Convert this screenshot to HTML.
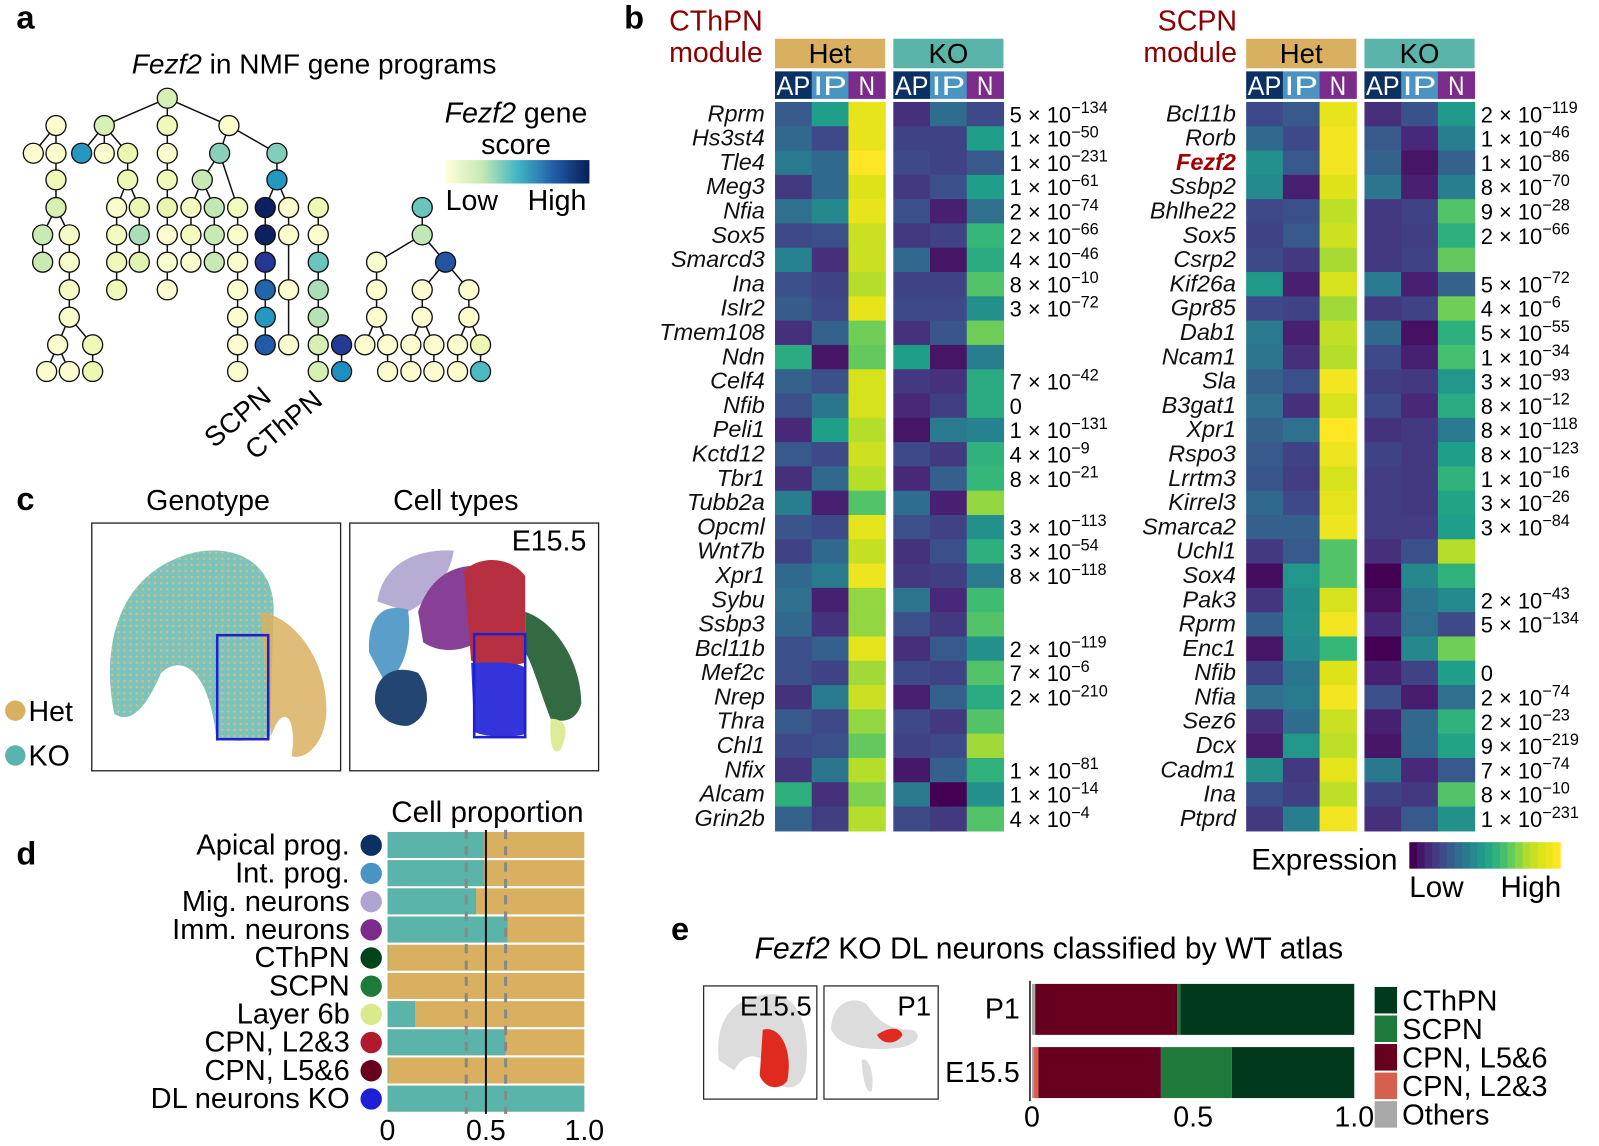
<!DOCTYPE html>
<html><head><meta charset="utf-8"><style>
html,body{margin:0;padding:0;background:#fff;}
svg{display:block;font-family:"Liberation Sans",Arial,sans-serif;}
.it{font-style:italic;}
</style></head><body>
<svg id="fig" width="1599" height="1146" viewBox="0 0 1568 1124" preserveAspectRatio="none" xmlns="http://www.w3.org/2000/svg">
<defs>
<linearGradient id="ylgnbu" x1="0" x2="1" y1="0" y2="0">
<stop offset="0" stop-color="#ffffd9"/><stop offset="0.25" stop-color="#c7e9b4"/><stop offset="0.5" stop-color="#41b6c4"/><stop offset="0.75" stop-color="#225ea8"/><stop offset="1" stop-color="#081d58"/>
</linearGradient>
<pattern id="speck" width="6" height="6" patternUnits="userSpaceOnUse">
<rect width="6" height="6" fill="#5ab4aa"/><circle cx="2" cy="2" r="1.2" fill="#d9b060" opacity="0.8"/>
</pattern>
</defs>
<g font-weight="bold" font-size="32">
<text x="16" y="28">a</text>
<text x="612" y="28">b</text>
<text x="16" y="500">c</text>
<text x="16" y="848">d</text>
<text x="658" y="922">e</text>
</g>
<text x="308" y="72" font-size="27.5" text-anchor="middle"><tspan class="it">Fezf2</tspan> in NMF gene programs</text>
<g>
<text x="506" y="120" font-size="28" text-anchor="middle"><tspan class="it">Fezf2</tspan> gene</text>
<text x="506" y="151" font-size="28" text-anchor="middle">score</text>
<rect x="437" y="157" width="141" height="23" fill="url(#ylgnbu)"/>
<text x="437" y="206" font-size="28">Low</text>
<text x="575" y="206" font-size="28" text-anchor="end">High</text>
</g>
<g id="tree" transform="translate(14.7,78.4) scale(0.3268)"></g>
<text transform="translate(210,440) rotate(-40)" font-size="27">SCPN</text>
<text transform="translate(250,452) rotate(-40)" font-size="27">CThPN</text>

<g id="heat"></g>
<g>
<text x="1227" y="853" font-size="29">Expression</text>
<g id="exprbar"></g>
<text x="1382" y="880" font-size="29">Low</text>
<text x="1531" y="880" font-size="29" text-anchor="end">High</text>
</g>

<g>
<text x="204" y="500" font-size="28" text-anchor="middle">Genotype</text>
<text x="447" y="500" font-size="28" text-anchor="middle">Cell types</text>
<rect x="90" y="513" width="244" height="243" fill="#fff" stroke="#222" stroke-width="1.3"/>
<rect x="343" y="513" width="244" height="243" fill="#fff" stroke="#222" stroke-width="1.3"/>
<g>
<path d="M112,700 C98,630 118,560 190,542 C240,532 272,560 268,605 L265,722 C245,728 222,728 212,722 C205,660 180,640 158,660 C145,690 130,712 112,700Z" fill="url(#speck)" opacity="0.8"/>
<path d="M255,600 C290,605 322,650 320,700 C318,730 300,745 286,742 C292,700 276,690 266,722Z" fill="#d9b060" opacity="0.85"/>
<rect x="213" y="623" width="50" height="102" fill="none" stroke="#2020d0" stroke-width="2.5"/>
</g>
<g opacity="0.9">
<path d="M370,590 C375,555 405,538 445,540 C440,570 420,590 400,600Z" fill="#b0a4d0"/>
<path d="M362,640 C360,610 372,590 400,598 C405,630 395,660 378,670Z" fill="#4a94c4"/>
<path d="M368,690 C365,665 385,650 410,660 C425,680 420,705 400,712 C385,712 372,705 368,690Z" fill="#0b3163"/>
<path d="M410,600 C420,570 440,555 465,555 L468,630 C450,640 430,640 415,630Z" fill="#7b2c8a"/>
<path d="M455,560 C470,545 500,545 515,565 L515,650 C495,655 475,655 462,648Z" fill="#b01a2e"/>
<path d="M462,650 C480,650 505,648 515,655 L515,720 C495,725 475,722 465,718Z" fill="#1f1fd8"/>
<path d="M515,600 C545,610 570,650 570,690 C566,705 555,710 540,705 C530,680 522,650 515,640Z" fill="#1d5a2e"/>
<path d="M540,705 C552,705 560,712 550,735 C545,740 538,738 540,705Z" fill="#d9ea8c"/>
</g>
<rect x="465" y="622" width="50" height="101" fill="none" stroke="#2020d0" stroke-width="2.5"/>
<text x="575" y="540" font-size="28" text-anchor="end">E15.5</text>
<g>
<circle cx="15" cy="697" r="10" fill="#d9b060"/>
<text x="28" y="707" font-size="28">Het</text>
<circle cx="15" cy="741" r="10" fill="#5ab4aa"/>
<text x="28" y="751" font-size="28">KO</text>
</g>
</g>

<g id="pd">
<text x="478" y="806" font-size="29" text-anchor="middle">Cell proportion</text>
</g>

<g id="pe">
<text x="740" y="940" font-size="29.5"><tspan class="it">Fezf2</tspan> KO DL neurons classified by WT atlas</text>
<rect x="690" y="967" width="111" height="111" fill="#fff" stroke="#222" stroke-width="1.2"/>
<path d="M705,1040 C700,1000 720,975 760,975 C785,980 795,1010 790,1050 C785,1070 770,1070 760,1060 C750,1030 730,1030 720,1050Z" fill="#dcdcdc"/>
<path d="M748,1010 C765,1005 778,1030 772,1060 C765,1070 750,1068 745,1055Z" fill="#e02a20"/>
<text x="796" y="996" font-size="27" text-anchor="end">E15.5</text>
<rect x="808" y="967" width="112" height="111" fill="#fff" stroke="#222" stroke-width="1.2"/>
<path d="M815,1010 C815,985 835,975 850,985 C860,1000 870,1010 895,1010 C905,1015 900,1025 880,1028 C855,1030 825,1030 815,1010Z" fill="#dcdcdc"/>
<path d="M845,1040 C850,1035 858,1050 855,1070 C850,1074 846,1060 845,1040Z" fill="#dcdcdc"/>
<path d="M860,1015 C870,1008 882,1006 885,1015 C880,1024 866,1026 860,1015Z" fill="#e02a20"/>
<text x="913" y="996" font-size="27" text-anchor="end">P1</text>
</g>
<script>
const nodeLayout=[[457,55],[123,137],[268,137],[457,137],[642,137],
[55,220],[123,220],[200,220],[268,220],[338,220],[457,220],[614,220],[786,220],
[123,300],[338,300],[457,300],[562,300],[786,300],
[123,383],[305,383],[373,383],[457,383],[528,383],[598,383],[668,383],[751,383],[821,383],[910,383],[1222,383],
[83,465],[163,465],[305,465],[373,465],[457,465],[528,465],[598,465],[668,465],[751,465],[821,465],[910,465],[1222,465],
[83,547],[163,547],[305,547],[373,547],[457,547],[528,547],[598,547],[668,547],[751,547],[910,547],[1085,547],[1292,547],
[163,630],[305,630],[457,630],[668,630],[751,630],[821,630],[910,630],[1085,630],[1222,630],[1362,630],
[163,712],[668,712],[751,712],[910,712],[1085,712],[1222,712],[1362,712],
[128,795],[233,795],[668,795],[751,795],[821,795],[910,795],[980,795],[1050,795],[1118,795],[1188,795],[1257,795],[1328,795],[1397,795],
[95,875],[163,875],[233,875],[668,875],[910,875],[980,875],[1118,875],[1188,875],[1257,875],[1328,875],[1397,875]];
const nodeScores=[0.2,0.03,0.2,0.1,0.03,
0.03,0.03,0.6,0.03,0.13,0.03,0.36,0.37,
0.1,0.12,0.1,0.25,0.6,
0.2,0.04,0.13,0.14,0.08,0.26,0.08,0.98,0.03,0.11,0.42,
0.24,0.07,0.08,0.3,0.03,0.08,0.25,0.04,0.98,0.03,0.03,0.26,
0.24,0.05,0.1,0.17,0.03,0.03,0.25,0.04,0.87,0.42,0.03,0.78,
0.07,0.1,0.03,0.03,0.73,0.03,0.3,0.03,0.03,0.03,
0.04,0.03,0.6,0.28,0.03,0.03,0.03,
0.03,0.1,0.03,0.76,0.03,0.2,0.86,0.03,0.03,0.03,0.03,0.03,0.12,
0.03,0.03,0.12,0.03,0.2,0.63,0.03,0.03,0.03,0.03,0.48];
const edgeList=[[457,55,268,137],[457,55,457,137],[457,55,642,137],[123,137,55,220],[123,137,123,220],
[268,137,200,220],[268,137,268,220],[268,137,338,220],[457,137,457,220],[457,220,457,300],[457,300,457,383],[457,383,457,465],[457,465,457,547],[457,547,457,630],
[642,137,614,220],[642,137,786,220],[123,220,123,300],[123,300,123,383],[123,383,83,465],[123,383,163,465],[83,465,83,547],
[163,465,163,547],[163,547,163,630],[163,630,163,712],[163,712,128,795],[163,712,233,795],[128,795,95,875],[128,795,163,875],[233,795,233,875],
[338,220,338,300],[338,300,305,383],[338,300,373,383],[305,383,305,465],[305,465,305,547],[305,547,305,630],[373,383,373,465],[373,465,373,547],
[614,220,562,300],[614,220,668,383],[562,300,528,383],[562,300,598,383],[528,383,528,465],[528,465,528,547],[598,383,598,465],[598,465,598,547],
[668,383,668,465],[668,465,668,547],[668,547,668,630],[668,630,668,712],[668,712,668,795],[668,795,668,875],
[786,220,786,300],[786,300,751,383],[786,300,821,383],[751,383,751,465],[751,465,751,547],[751,547,751,630],[751,630,751,712],[751,712,751,795],
[821,383,821,465],[821,465,821,630],[821,630,821,795],
[910,383,910,465],[910,465,910,547],[910,547,910,630],[910,630,910,712],[910,712,910,795],[910,795,910,875],[980,795,980,875],
[1222,383,1222,465],[1222,465,1085,547],[1222,465,1292,547],[1085,547,1085,630],[1085,630,1085,712],[1085,712,1050,795],[1085,712,1118,795],[1118,795,1118,875],
[1292,547,1222,630],[1292,547,1362,630],[1222,630,1222,712],[1222,712,1188,795],[1222,712,1257,795],[1188,795,1188,875],[1257,795,1257,875],
[1362,630,1362,712],[1362,712,1328,795],[1362,712,1397,795],[1328,795,1328,875],[1397,795,1397,875]];
const NS="http://www.w3.org/2000/svg";
function mk(tag,attrs,parent){const e=document.createElementNS(NS,tag);for(const k in attrs)e.setAttribute(k,attrs[k]);parent.appendChild(e);return e;}
function lerpStops(stops,t){t=Math.max(0,Math.min(1,t));const n=stops.length-1;const i=Math.min(n-1,Math.floor(t*n));const f=t*n-i;
 const a=stops[i],b=stops[i+1];const h=s=>[parseInt(s.slice(1,3),16),parseInt(s.slice(3,5),16),parseInt(s.slice(5,7),16)];
 const A=h(a),B=h(b);return "rgb("+A.map((v,k)=>Math.round(v+(B[k]-v)*f)).join(",")+")";}
const YLGNBU=["#ffffd9","#edf8b1","#c7e9b4","#7fcdbb","#41b6c4","#1d91c0","#225ea8","#253494","#081d58"];
const VIRIDIS=["#440154","#482878","#3e4989","#31688e","#26828e","#1f9e89","#35b779","#6ece58","#b5de2b","#dde318","#fde725"];
const tree=document.getElementById('tree');
edgeList.forEach(e=>{
 const ln=mk('line',{x1:e[0],y1:e[1],x2:e[2],y2:e[3],stroke:'#111','stroke-width':4.5},tree);
 
 
});
nodeLayout.forEach((n,i)=>{
 const c=mk('circle',{cx:n[0],cy:n[1],r:30,fill:lerpStops(YLGNBU,nodeScores[i]),stroke:'#111','stroke-width':4},tree);
 
 
});

const cthpnGenes=["Rprm","Hs3st4","Tle4","Meg3","Nfia","Sox5","Smarcd3","Ina","Islr2","Tmem108","Ndn","Celf4","Nfib","Peli1","Kctd12","Tbr1","Tubb2a","Opcml","Wnt7b","Xpr1","Sybu","Ssbp3","Bcl11b","Mef2c","Nrep","Thra","Chl1","Nfix","Alcam","Grin2b"];
const cthpnHet=[[.25,.5,.93],[.3,.2,.93],[.37,.3,1],[.15,.3,.9],[.33,.42,.93],[.2,.22,.85],[.4,.12,.85],[.22,.18,.8],[.26,.2,.93],[.12,.28,.7],[.55,.05,.68],[.28,.22,.88],[.22,.35,.88],[.1,.5,.8],[.25,.2,.86],[.12,.3,.8],[.38,.08,.65],[.24,.2,.92],[.18,.3,.84],[.3,.37,.95],[.33,.08,.75],[.3,.13,.75],[.22,.27,.92],[.22,.18,.77],[.13,.37,.85],[.25,.2,.75],[.2,.22,.68],[.14,.35,.8],[.57,.12,.72],[.28,.17,.8]];
const cthpnKO=[[.12,.32,.2],[.18,.18,.5],[.2,.18,.25],[.15,.22,.5],[.22,.08,.33],[.15,.18,.6],[.3,.05,.55],[.18,.18,.65],[.2,.2,.45],[.13,.24,.7],[.5,.05,.38],[.15,.13,.55],[.1,.17,.55],[.05,.37,.4],[.2,.15,.58],[.1,.27,.6],[.32,.08,.75],[.22,.18,.45],[.13,.22,.57],[.15,.17,.37],[.35,.1,.62],[.22,.15,.65],[.12,.25,.45],[.2,.18,.65],[.08,.27,.55],[.2,.15,.65],[.18,.2,.77],[.06,.27,.58],[.37,0,.45],[.2,.15,.65]];
const cthpnPm=["5","1","1","1","2","2","4","8","3","","","7","0","1","4","8","","3","3","8","","","2","7","2","","","1","1","4"];
const cthpnPe=["134","50","231","61","74","66","46","10","72","","","42","","131","9","21","","113","54","118","","","119","6","210","","","81","14","4"];
const scpnGenes=["Bcl11b","Rorb","Fezf2","Ssbp2","Bhlhe22","Sox5","Csrp2","Kif26a","Gpr85","Dab1","Ncam1","Sla","B3gat1","Xpr1","Rspo3","Lrrtm3","Kirrel3","Smarca2","Uchl1","Sox4","Pak3","Rprm","Enc1","Nfib","Nfia","Sez6","Dcx","Cadm1","Ina","Ptprd"];
const scpnHet=[[.2,.25,.93],[.3,.2,.97],[.45,.25,.96],[.43,.08,.9],[.2,.22,.82],[.18,.25,.86],[.2,.15,.78],[.48,.08,.88],[.2,.18,.77],[.37,.08,.83],[.35,.12,.8],[.28,.22,.97],[.33,.12,.88],[.28,.33,1],[.25,.18,.95],[.24,.16,.88],[.3,.2,.92],[.27,.27,.95],[.15,.25,.65],[.03,.47,.65],[.14,.44,.88],[.27,.45,.96],[.05,.43,.6],[.18,.35,.9],[.33,.37,.97],[.12,.32,.85],[.07,.47,.82],[.45,.15,.92],[.22,.17,.82],[.15,.38,.96]];
const scpnKO=[[.12,.23,.48],[.25,.1,.38],[.28,.05,.28],[.35,.08,.38],[.15,.18,.65],[.15,.17,.57],[.15,.18,.68],[.37,.08,.28],[.15,.18,.7],[.3,.04,.57],[.2,.08,.63],[.17,.15,.47],[.2,.1,.55],[.13,.15,.37],[.18,.15,.5],[.16,.15,.58],[.16,.15,.52],[.16,.16,.5],[.12,.22,.8],[0,.42,.58],[.04,.35,.43],[.1,.33,.2],[0,.42,.7],[.08,.18,.5],[.22,.07,.33],[.08,.3,.58],[.05,.3,.52],[.36,.1,.25],[.18,.15,.65],[.12,.25,.45]];
const scpnPm=["2","1","1","8","9","2","","5","4","5","1","3","8","8","8","1","3","3","","","2","5","","0","2","2","9","7","8","1"];
const scpnPe=["119","46","86","70","28","66","","72","6","55","34","93","12","118","123","16","26","84","","","43","134","","","74","23","219","74","10","231"];
const subCols=["AP","IP","N"];
const subColors=["#0b3163","#4a94c4","#7b2c8a"];

const heat=document.getElementById('heat');
const rowTop=100,rowH=23.83,colW=36;
function drawModule(name,x0,genes,het,ko,pm,pe,labelX,pX,titleX){
 const g=mk('g',{},heat);
 
 
 const t1=mk('text',{x:titleX,y:30,'font-size':28,'text-anchor':'end',fill:'#8b0000'},g);t1.textContent=name==='cthpn'?'CThPN':'SCPN';
 
 
 const t2=mk('text',{x:titleX,y:61,'font-size':28,'text-anchor':'end',fill:'#8b0000'},g);t2.textContent='module';
 
 
 [["Het","#d9b060",x0],["KO","#5ab4aa",x0+116]].forEach((gt)=>{
  const r=mk('rect',{x:gt[2],y:38,width:108,height:29,fill:gt[1]},g);
  
  
  const tx=mk('text',{x:gt[2]+54,y:62,'font-size':27,'text-anchor':'middle'},g);tx.textContent=gt[0];
  
  
  subCols.forEach((s,si)=>{
   const sr=mk('rect',{x:gt[2]+si*colW,y:70,width:colW+0.5,height:27,fill:subColors[si]},g);
   
   
   const st=mk('text',{x:gt[2]+si*colW+colW/2,y:93,'font-size':26,'text-anchor':'middle',fill:'#fff',textLength:s.length>1?33:16,lengthAdjust:'spacingAndGlyphs'},g);st.textContent=s;
   
   
  });
 });
 genes.forEach((gn,i)=>{
  const y=rowTop+i*rowH;
  const lab=mk('text',{x:labelX,y:y+19,'font-size':23,'text-anchor':'end','font-style':'italic',fill:gn==='Fezf2'?'#a00000':'#111','font-weight':gn==='Fezf2'?'bold':'normal'},g);lab.textContent=gn;
  
  
  [het[i],ko[i]].forEach((vals,gi)=>{
   vals.forEach((v,ci)=>{
    const c=mk('rect',{x:x0+gi*116+ci*colW,y:y,width:colW+0.6,height:rowH+0.6,fill:lerpStops(VIRIDIS,v)},g);
    
    
   });
  });
  if(pm[i]!==""){
   const pt=mk('text',{x:pX,y:y+20,'font-size':21.5},g);
   
   
   if(pe[i]===""){pt.textContent=pm[i];}
   else{pt.textContent=pm[i]+" × 10";const sp=mk('tspan',{dy:-9,'font-size':16},pt);sp.textContent="−"+pe[i];}
  }
 });
}
drawModule('cthpn',760,cthpnGenes,cthpnHet,cthpnKO,cthpnPm,cthpnPe,750,990,748);
drawModule('scpn',1222,scpnGenes,scpnHet,scpnKO,scpnPm,scpnPe,1212,1452,1213);
const eb=document.getElementById('exprbar');
for(let k=0;k<20;k++){
 const r=mk('rect',{x:1382+k*7.4,y:826,width:7.9,height:26,fill:lerpStops(VIRIDIS,k/19)},eb);
 
 
}

const cellTypes=["Apical prog.","Int. prog.","Mig. neurons","Imm. neurons","CThPN","SCPN","Layer 6b","CPN, L2&3","CPN, L5&6","DL neurons KO"];
const koFraction=[0.49,0.49,0.45,0.61,0.004,0.0,0.14,0.6,0.004,1.0];
const typeColors=["#0b3163","#4a94c4","#b0a4d0","#7b2c8a","#00441b","#1d7a3a","#d9ea8c","#b01a2e","#67001f","#1f1fd8"];
const dTicks=[0,0.5,1.0];
const dTickLabels=["0","0.5","1.0"];
const dRefLines=[0.4,0.5,0.6];
const pd=document.getElementById('pd');
const dx=v=>380+v*193, dRow0=816, dStep=27.65, dBarH=25.5;
cellTypes.forEach((ct,i)=>{
 const y=dRow0+i*dStep;
 const bg=mk('rect',{x:dx(0),y:y,width:dx(1)-dx(0),height:dBarH,fill:'#d9b060'},pd);
 
 
 const fg=mk('rect',{x:dx(0),y:y,width:dx(koFraction[i])-dx(0),height:dBarH,fill:'#5ab4aa'},pd);
 
 
 const lb=mk('text',{x:343,y:y+22,'font-size':28.5,'text-anchor':'end'},pd);lb.textContent=ct;
 
 
 const dot=mk('circle',{cx:364,cy:y+13,r:10.5,fill:typeColors[i]},pd);
 
 
});
dRefLines.forEach(v=>{
 const l=mk('line',{x1:dx(v),x2:dx(v),y1:dRow0-2,y2:dRow0+10*dStep,stroke:v===0.5?'#111':'#888','stroke-width':v===0.5?2:3,'stroke-dasharray':v===0.5?'':'9,7'},pd);
 
 
});
dTicks.forEach((v,i)=>{
 const t=mk('text',{x:dx(v),y:1118,'font-size':28,'text-anchor':'middle'},pd);t.textContent=dTickLabels[i];
 
 
});

const stages=["P1","E15.5"];
const classNames=["Others","CPN, L2&3","CPN, L5&6","SCPN","CThPN"];
const classColors=["#a8a8a8","#d6604d","#67001f","#1d7a3a","#00391c"];
const stageFractions=[[0.01,0.0,0.44,0.01,0.54],[0.005,0.015,0.38,0.22,0.38]];
const eTicks=[0,0.5,1.0];
const eTickLabels=["0","0.5","1.0"];
const pe=document.getElementById('pe');
const ex=v=>1012+v*316;
stages.forEach((s,si)=>{
 const y=si===0?965:1027;
 let acc=0;
 stageFractions[si].forEach((f,ci)=>{
  const r=mk('rect',{x:ex(acc),y:y,width:Math.max(0,ex(acc+f)-ex(acc)),height:50,fill:classColors[ci]},pe);
  
  
  acc+=f;
 });
 const t=mk('text',{x:1000,y:y+34,'font-size':28,'text-anchor':'end'},pe);t.textContent=s;
 
 
});
const ax=mk('line',{x1:1010,x2:1010,y1:962,y2:1080,stroke:'#111','stroke-width':1.5},pe);


eTicks.forEach((v,i)=>{
 const t=mk('text',{x:ex(v),y:1105,'font-size':28,'text-anchor':'middle'},pe);t.textContent=eTickLabels[i];
 
 
});
const legOrder=[4,3,2,1,0];
legOrder.forEach((ci,k)=>{
 const y=968+k*28;
 const r=mk('rect',{x:1348,y:y,width:22,height:26,fill:classColors[ci]},pe);
 
 
 const t=mk('text',{x:1375,y:y+23,'font-size':28.5},pe);t.textContent=classNames[ci];
 
 
});
</script>
</svg>
</body></html>
